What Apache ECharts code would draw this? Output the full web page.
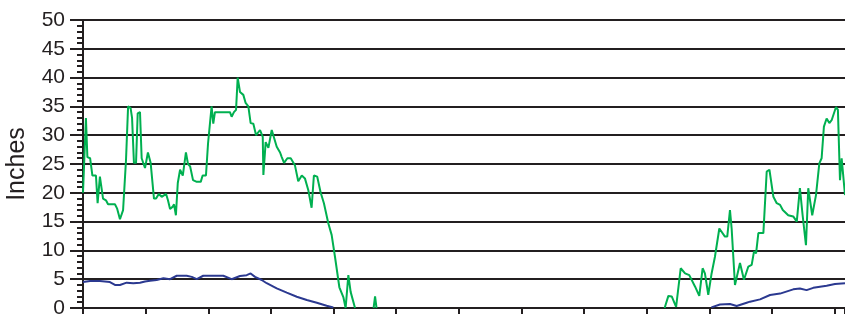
<!DOCTYPE html>
<html>
<head>
<meta charset="utf-8">
<script src="https://cdn.jsdelivr.net/npm/echarts@6/dist/echarts.min.js"></script>
<style>
    html, body { margin: 0; padding: 0; background: #fff; }
    #chart { width: 845px; height: 314px; }
</style>
</head>
<body>
<div id="chart"></div>
<script>
// snow depth (green), day index from start of axis; null = no snow on the ground
const depthDay = [0, 1.4, 2.1, 3.4, 4.5, 6.2, 7, 8.1, 9.6, 11, 12, 15.3, 16.3, 17.7, 19.2, 20.6, 21.6, 22.8, 23.5, 24.4,
    25.4, 26.2, 27.3, 28.1, 29.7, 31.1, 32.4, 34, 35, 36.3, 37.7, 38.5, 39.8, 40.7, 41.7, 43, 43.6, 44.5, 45.4, 46.5,
    47.8, 48.4, 49.3, 50.3, 51.3, 52.7, 54.5, 56.4, 57.3, 58.9, 59.9, 61.6, 62.4, 63.2, 65.6, 70.4, 71.2, 72.3, 73.3, 74.1,
    75.2, 76.8, 77.9, 79.2, 80.3, 81.6, 82.9, 84.8, 86.1, 86.4, 87.5, 88.8, 90.4, 92.8, 94.4, 95.2, 96.3, 97.9, 99.5, 101.5,
    103.1, 104.8, 106.3, 107.9, 109.5, 110.6, 112.2, 113.8, 115.4, 117.5, 119.1, 120.7, 122.8, 124.7, 125.8, 127.1, 128.2, 130.3,
    135, 139.2, 139.9, 140.6, 200, 278.6, 280.4, 282, 284.1, 286.3, 288.4, 290.4, 293.2, 295.2, 296.8, 297.9, 299.5, 301.1, 302.7, 304.8,
    307.5, 308.6, 309.9, 310.7, 312.3, 314.7, 316.6, 318.7, 320.3, 321.4, 322.4, 323.5, 325.9, 327.5, 328.8, 330.7, 332.3, 333.9,
    335.2, 337.8, 340.2, 341.9, 343.4, 344.7, 346.3, 347.4, 349.3, 351.1, 352.7, 353.8, 354.9, 356.2, 357.5, 358.6, 360.7, 361.6,
    362.6, 363.4, 365];
const depthIn = [20, 33, 26.2, 26, 23, 23, 18.2, 22.8, 19, 18.7, 18, 18, 17.3, 15.4, 17, 25.7, 35, 34.7, 33, 25.2,
    25.2, 33.8, 34, 26, 24.3, 27, 25.2, 19, 19, 19.8, 19.3, 19, 19.8, 18.7, 17.2, 17.6, 18, 16.1, 21.7, 24,
    23, 23.1, 27, 25, 24.6, 22.2, 21.9, 21.9, 23, 23, 28.6, 35, 32, 34, 34, 34, 33.2, 34, 34.4, 40,
    37.5, 37, 35.6, 35, 32.1, 32, 30, 30.9, 29.7, 23.1, 28.8, 27.8, 30.9, 28, 27, 26.2, 25.2, 26, 26, 24.8,
    22, 23, 22.5, 20.5, 17.4, 23, 22.8, 20.1, 18.2, 14.7, 12.7, 8.9, 3.6, 1.9, 0, 5.7, 2.8, 0,
    null, 0, 2, 0, null, 0, 2.1, 2, 0.2, 6.9, 6, 5.7, 3.7, 2.1, 6.9, 6, 2.3, 6, 8.9, 13.8,
    12.4, 12.4, 17, 13.8, 4, 7.8, 4.9, 7.2, 7.5, 9.8, 9.5, 13, 13, 23.7, 24, 19.3, 18.2, 17.9,
    17, 16.1, 15.9, 15, 20.8, 16.1, 10.9, 20.8, 16.1, 19.6, 25.1, 26, 31.5, 32.9, 32.1, 32.6, 34.9, 34.4,
    22.2, 26, 19.6];

// snow water equivalent (navy)
const sweDay = [0, 3.4, 8.1, 12.9, 15.3, 17.7, 20.9, 24.1, 27.3, 29.7, 32.1, 35.3, 38.5, 41.7, 44.9, 49.7, 52.1, 54.5, 57.6, 67.2,
    71.2, 75.2, 78.4, 80.3, 82.4, 85.6, 88, 92.8, 97.6, 102.4, 107.2, 112, 116.7, 119.9, 200, 301, 305.1, 309.9, 313.1,
    317.9, 319.5, 324.3, 329.1, 333.9, 340.2, 343.4, 346.6, 349.8, 353, 356.2, 360.2, 365];
const sweIn = [4.5, 4.7, 4.7, 4.5, 4, 4, 4.4, 4.3, 4.4, 4.6, 4.75, 4.86, 5.15, 5, 5.6, 5.6, 5.4, 5, 5.6, 5.6,
    5, 5.55, 5.7, 6, 5.4, 4.86, 4.3, 3.4, 2.66, 1.96, 1.4, 0.92, 0.4, 0.1, null, 0.1, 0.6, 0.7, 0.35,
    0.92, 1.1, 1.5, 2.26, 2.5, 3.24, 3.4, 3.1, 3.5, 3.7, 3.87, 4.17, 4.3];

const yTicks = [0, 5, 10, 15, 20, 25, 30, 35, 40, 45, 50];

const pairs = (xs, ys) => xs.map((x, i) => [x, ys[i] === null ? '-' : ys[i]]);

const ink = '#231f20';
const font = 'Liberation Sans, Arial, sans-serif';

const chart = echarts.init(document.getElementById('chart'));
chart.setOption({
    animation: false,
    grid: {
        left: 83,
        right: 0,
        top: 20,
        bottom: 6,
        outerBoundsMode: 'none'
    },
    xAxis: {
        type: 'value',
        min: 0,
        max: 365,
        interval: 30,
        axisLine: { lineStyle: { color: ink, width: 2 } },
        axisTick: { show: true, length: 8, lineStyle: { color: ink, width: 2 } },
        axisLabel: { show: false },
        splitLine: { show: false }
    },
    yAxis: {
        type: 'value',
        min: yTicks[0],
        max: yTicks[yTicks.length - 1],
        interval: 5,
        name: 'Inches',
        nameLocation: 'middle',
        nameGap: 53,
        nameRotate: 90,
        nameTextStyle: { fontFamily: font, fontSize: 25, color: ink },
        axisLine: { show: true, lineStyle: { color: ink, width: 2 } },
        axisTick: { show: true, length: 13, lineStyle: { color: ink, width: 2 } },
        minorTick: { show: true, splitNumber: 5, length: 6, lineStyle: { color: ink, width: 2 } },
        axisLabel: { fontFamily: font, fontSize: 21, color: ink, margin: 18 },
        splitLine: { lineStyle: { color: ink, width: 2 } }
    },
    series: [
        {
            name: 'Snow Depth',
            type: 'line',
            data: pairs(depthDay, depthIn),
            showSymbol: false,
            connectNulls: false,
            lineStyle: { color: '#00b050', width: 2 },
            itemStyle: { color: '#00b050' }
        },
        {
            name: 'SWE',
            type: 'line',
            data: pairs(sweDay, sweIn),
            showSymbol: false,
            connectNulls: false,
            lineStyle: { color: '#2b3990', width: 2 },
            itemStyle: { color: '#2b3990' }
        }
    ]
});
</script>
</body>
</html>
